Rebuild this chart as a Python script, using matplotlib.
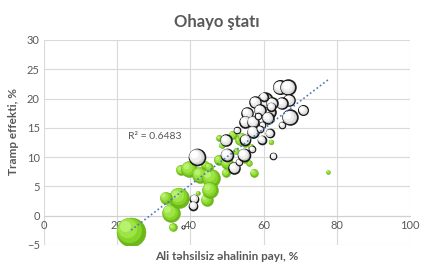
import matplotlib
matplotlib.use("Agg")
import matplotlib.pyplot as plt
import numpy as np

plt.rcParams['font.family'] = ['Lato', 'DejaVu Sans']

# Green counties: x = share without higher education (%), y = Trump effect (%), w = bubble value
green_x = [23.8, 35.2, 34.7, 36.9, 33.3, 44.5, 37.4, 39.6, 42.6, 45.6, 45.4, 44.0, 47.8, 50.0,
           49.7, 57.4, 56.0, 54.8, 77.6, 62.0, 47.8, 51.6, 53.6, 55.0, 57.1, 56.5, 52.5, 42.0,
           45.0, 48.5, 54.0]
green_y = [-2.7, -2.0, 0.5, 3.1, 3.1, 2.7, 7.8, 8.0, 7.0, 6.5, 4.4, 8.7, 9.5, 9.0,
           7.3, 7.3, 9.0, 9.5, 7.5, 12.6, 13.3, 13.8, 12.9, 12.4, 14.1, 11.8, 11.0, 3.9,
           8.3, 12.0, 13.5]
green_w = [210, 16, 81, 100, 36, 36, 25, 64, 64, 81, 64, 16, 25, 36,
           16, 16, 9, 9, 4, 6, 9, 16, 25, 16, 25, 9, 9, 4,
           16, 9, 16]

white_x = [38.0, 41.0, 40.7, 41.8, 52.0, 53.3, 50.0, 54.6, 56.8, 62.6, 49.7, 64.5, 66.7, 67.0,
           65.0, 70.8, 67.2, 65.0, 60.4, 57.7, 62.3, 61.7, 59.0, 55.5, 55.0, 57.1, 61.2, 57.1,
           59.6, 61.7, 59.5, 58.5, 60.0, 62.0, 52.7, 55.0, 59.0]
white_y = [-1.9, 2.9, 1.7, 10.0, 8.2, 9.2, 10.4, 10.4, 11.4, 10.2, 12.9, 21.9, 21.9, 19.7,
           19.2, 18.0, 16.8, 15.5, 19.7, 19.4, 19.2, 17.7, 18.0, 17.5, 16.0, 16.0, 16.7, 14.3,
           15.5, 14.1, 13.0, 17.0, 20.3, 18.6, 14.6, 13.0, 14.8]
white_w = [1.5, 16, 16, 64, 30, 9, 36, 36, 9, 9, 30, 45, 55, 30,
           30, 22, 55, 9, 55, 30, 30, 30, 30, 30, 30, 30, 30, 30,
           9, 16, 16, 9, 16, 16, 9, 25, 9]

x_ticks = [0, 20, 40, 60, 80, 100]
y_ticks = [-5, 0, 5, 10, 15, 20, 25, 30]
r2_text = "R² = 0.6483"

fig = plt.figure(figsize=(4.3, 2.79), dpi=100)
ax = fig.add_axes([0.1023, 0.1219, 0.8512, 0.7348])
ax.set_xlim(0, 100)
ax.set_ylim(-5, 30)
ax.set_xticks(x_ticks)
ax.set_yticks(y_ticks)
ax.grid(True, color='#d9d9d9', linewidth=0.8)
ax.set_axisbelow(True)
for s in ['top', 'right', 'left']:
    ax.spines[s].set_visible(False)
ax.spines['bottom'].set_position(('data', 0))
ax.spines['bottom'].set_color('#d0d0d0')
ax.tick_params(length=0, labelsize=8, colors='#595959', pad=3)

k = 2.07
gx, gy, gw = np.array(green_x), np.array(green_y), np.array(green_w)
wx, wy, ww = np.array(white_x), np.array(white_y), np.array(white_w)

green_style = ('#6cb818', [(0.75, 0.12, '#86d42a'), (0.45, 0.25, '#9de444'),
                           (0.15, 0.4, '#b8f070')], '#64a816', 0.3)
white_style = ('#c4c4c4', [(0.8, 0.1, '#dcdcdc'), (0.55, 0.2, '#efefef'),
                           (0.25, 0.35, '#ffffff')], '#1a1a1a', 1.2)


def shaded(x, y, w, style, z):
    base, layers, edge, lw = style
    for xi, yi, wi in zip(x, y, w):
        ax.scatter([xi], [yi], s=wi * k, color=base, edgecolor=edge, linewidth=lw, zorder=z)
        r = np.sqrt(wi)
        for frac, off, col in layers:
            ax.scatter([xi - off * r / 3.66], [yi + off * r / 5.88], s=wi * k * frac,
                       color=col, linewidth=0, zorder=z)


shaded(gx, gy, gw, green_style, 3)
shaded(wx, wy, ww, white_style, 3)

allx = np.concatenate([gx, wx])
ally = np.concatenate([gy, wy])
m, b = np.polyfit(allx, ally, 1)
xl = np.array([allx.min(), allx.max()])
ax.plot(xl, m * xl + b, linestyle=(0, (1, 1.5)), color='#4a7ab8', linewidth=1.2, zorder=5)

ax.text(23, 13.6, r2_text, fontsize=7.5, color='#595959', ha='left', va='center')

fig.text(0.505, 0.921, "Ohayo ştatı", fontsize=12, fontweight='bold', color='#595959',
         ha='center', va='center')
fig.text(0.528, 0.079, "Ali təhsilsiz əhalinin payı, %", fontsize=8.5, fontweight='bold',
         color='#595959', ha='center', va='center')
fig.text(0.032, 0.527, "Tramp effekti, %", fontsize=8.5, fontweight='bold', color='#595959',
         ha='center', va='center', rotation=90)

fig.savefig("out.png", dpi=100)
